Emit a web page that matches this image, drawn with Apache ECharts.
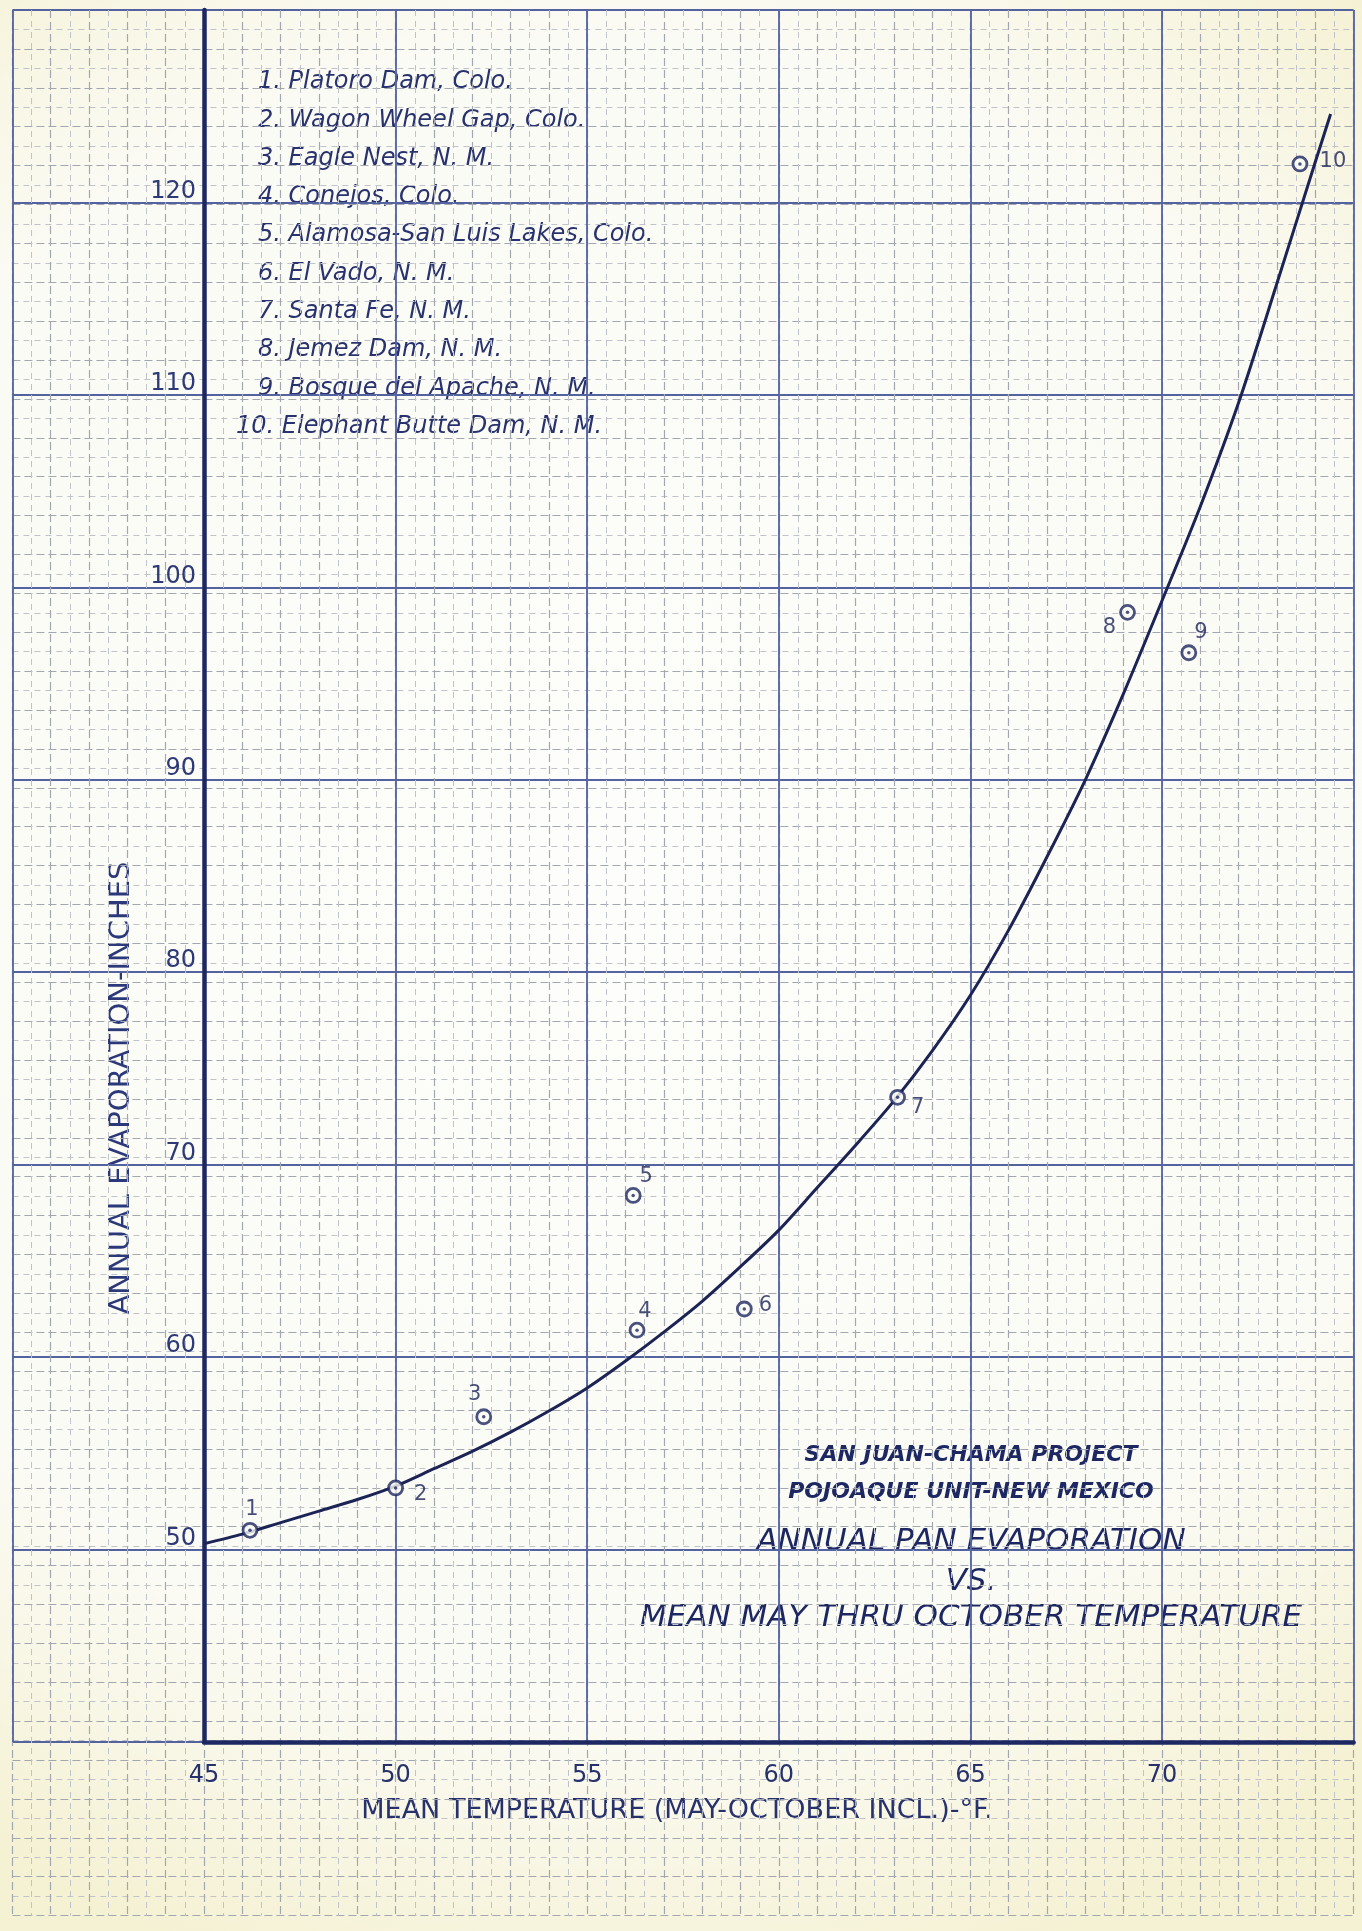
<!DOCTYPE html>
<html>
<head>
<meta charset="utf-8">
<script src="https://cdn.jsdelivr.net/npm/echarts@6/dist/echarts.min.js"></script>
<style>html,body{margin:0;padding:0;background:#fbfbf6;overflow:hidden;}#chart{width:1362px;height:1931px;}</style>
</head>
<body>
<div id="chart"></div>
<script>
// ---- data ----
const stationNames = ['Platoro Dam, Colo.', 'Wagon Wheel Gap, Colo.', 'Eagle Nest, N. M.', 'Conejos, Colo.',
  'Alamosa-San Luis Lakes, Colo.', 'El Vado, N. M.', 'Santa Fe, N. M.', 'Jemez Dam, N. M.',
  'Bosque del Apache, N. M.', 'Elephant Butte Dam, N. M.'];
const stationIds = ['1', '2', '3', '4', '5', '6', '7', '8', '9', '10'];
const meanTempF = [46.2, 50.0, 52.3, 56.3, 56.2, 59.1, 63.1, 69.1, 70.7, 73.6];
const evapInches = [51.0, 53.2, 56.9, 61.4, 68.4, 62.5, 73.5, 98.7, 96.6, 122.0];
// fitted curve
const curveTempF = [45, 46, 47, 48, 49, 50, 51, 52, 53, 54, 55, 56, 57, 58, 59, 60, 61, 62, 63, 64, 65, 66, 67, 68, 69, 70, 71, 72, 73, 74, 74.4];
const curveEvap = [50.3, 50.8, 51.4, 52.0, 52.6, 53.3, 54.2, 55.1, 56.1, 57.2, 58.4, 59.8, 61.3, 62.9, 64.7, 66.6, 68.8, 71.0, 73.3, 75.9, 78.8, 82.2, 86.0, 90.0, 94.5, 99.3, 104.2, 109.6, 115.8, 122.1, 124.6];
const xTickLabels = ['45', '50', '55', '60', '65', '70'];
const yTickLabels = ['50', '60', '70', '80', '90', '100', '110', '120'];
const titleLines = ['SAN JUAN-CHAMA PROJECT', 'POJOAQUE UNIT-NEW MEXICO', 'ANNUAL PAN EVAPORATION', 'VS.', 'MEAN MAY THRU OCTOBER TEMPERATURE'];
const xAxisTitle = 'MEAN TEMPERATURE (MAY-OCTOBER INCL.)-°F.';
const yAxisTitle = 'ANNUAL EVAPORATION-INCHES';

// ---- styles ----
const INK = '#1d2762';
const labelOffsets = [[2, -21], [25, 7], [-9, -22], [8, -19], [13, -19], [21, -3], [20, 10], [-18, 15], [12, -20], [33, -2]];
const hideAxis = { axisLine: { show: false }, axisTick: { show: false }, axisLabel: { show: false } };
const semiLine = { color: '#a3a8b0', width: 1.2, type: [8, 4] };
const fineLine = { color: '#c0c4ca', width: 1, type: [6, 5] };
const majorLine = { color: '#5462a0', width: 1.8 };

const chart = echarts.init(document.getElementById('chart'), null, { renderer: 'canvas' });

const legendGraphics = stationNames.map((n, i) => ({
  type: 'text', left: i < 9 ? 258 : 236, top: 80 + 38.3 * i - 10,
  style: { text: stationIds[i] + '. ' + n, font: 'italic 24px "DejaVu Sans"', fill: '#28326e' }
}));
const titleY = [1455, 1492, 1542, 1582, 1618];
const titleFonts = ['italic bold 22px "DejaVu Sans"', 'italic bold 22px "DejaVu Sans"', 'italic 31px "DejaVu Sans"', 'italic 31px "DejaVu Sans"', 'italic 31px "DejaVu Sans"'];
const titleGraphics = titleLines.map((t, i) => ({
  type: 'text', x: 971, y: titleY[i],
  style: { text: t, font: titleFonts[i], fill: INK, align: 'center', verticalAlign: 'middle' }
}));

const option = {
  animation: false,
  backgroundColor: { type: 'radial', x: 0.45, y: 0.45, r: 0.85,
    colorStops: [{ offset: 0, color: '#fdfdfb' }, { offset: 0.72, color: '#fbfbf5' }, { offset: 1, color: '#f5f1d3' }] },
  grid: [
    { left: 12.4, right: 8.4, top: 10, bottom: 15.4 },
    { left: 12.4, right: 8.4, top: 10, bottom: 189 },
    { left: 204, right: 8.4, top: 10, bottom: 189 }
  ],
  xAxis: [
    Object.assign({ gridIndex: 0, type: 'value', min: 40, max: 75, interval: 1,
      splitLine: { show: true, lineStyle: semiLine },
      minorTick: { show: false, splitNumber: 2 },
      minorSplitLine: { show: true, lineStyle: fineLine } }, hideAxis),
    Object.assign({ gridIndex: 1, type: 'value', min: 40, max: 75, interval: 5,
      splitLine: { show: true, lineStyle: majorLine } }, hideAxis),
    { gridIndex: 2, type: 'value', min: 45, max: 75, interval: 5,
      axisLine: { show: true, onZero: false, lineStyle: { color: INK, width: 4.5 } },
      axisTick: { show: false }, splitLine: { show: false },
      axisLabel: { margin: 22, fontFamily: 'DejaVu Sans', fontSize: 24, color: '#27316c',
        formatter: v => (xTickLabels.indexOf(String(v)) >= 0 ? String(v) : '') } }
  ],
  yAxis: [
    Object.assign({ gridIndex: 0, type: 'value', min: 32, max: 130, interval: 2,
      splitLine: { show: true, lineStyle: semiLine },
      minorTick: { show: false, splitNumber: 2 },
      minorSplitLine: { show: true, lineStyle: fineLine } }, hideAxis),
    Object.assign({ gridIndex: 1, type: 'value', min: 40, max: 130, interval: 10,
      splitLine: { show: true, lineStyle: majorLine } }, hideAxis),
    { gridIndex: 2, type: 'value', min: 40, max: 130, interval: 10,
      axisLine: { show: true, onZero: false, lineStyle: { color: INK, width: 4.5 } },
      axisTick: { show: false }, splitLine: { show: false },
      axisLabel: { margin: 8, verticalAlign: 'bottom', lineHeight: 22, fontFamily: 'DejaVu Sans', fontSize: 24, color: '#2e3a78',
        formatter: v => (yTickLabels.indexOf(String(v)) >= 0 ? String(v) : '') } }
  ],
  series: [
    { type: 'line', xAxisIndex: 2, yAxisIndex: 2, data: curveTempF.map((t, i) => [t, curveEvap[i]]),
      smooth: 0.3, showSymbol: false, symbol: 'none',
      lineStyle: { color: '#1c2355', width: 3 }, z: 3 },
    { type: 'scatter', xAxisIndex: 2, yAxisIndex: 2, symbol: 'circle', symbolSize: 14, z: 4,
      itemStyle: { color: '#fbfbf5', borderColor: INK, borderWidth: 2.8 },
      data: meanTempF.map((t, i) => ({ value: [t, evapInches[i]],
        label: { show: true, position: 'inside', offset: labelOffsets[i], formatter: stationIds[i],
          color: '#1a2358', fontFamily: 'DejaVu Sans', fontSize: 21 } })) },
    { type: 'scatter', xAxisIndex: 2, yAxisIndex: 2, symbol: 'circle', symbolSize: 3.5, z: 5,
      itemStyle: { color: INK }, data: meanTempF.map((t, i) => [t, evapInches[i]]), silent: true }
  ],
  graphic: [
    ...legendGraphics,
    ...titleGraphics,
    { type: 'text', x: 121, y: 1088, rotation: Math.PI / 2,
      style: { text: yAxisTitle, font: '29px "DejaVu Sans"', fill: '#2b387a', align: 'center', verticalAlign: 'middle' } },
    { type: 'text', x: 677, y: 1811,
      style: { text: xAxisTitle, font: '27px "DejaVu Sans"', fill: '#27316c', align: 'center', verticalAlign: 'middle' } }
  ]
};
chart.setOption(option);
</script>
</body>
</html>
